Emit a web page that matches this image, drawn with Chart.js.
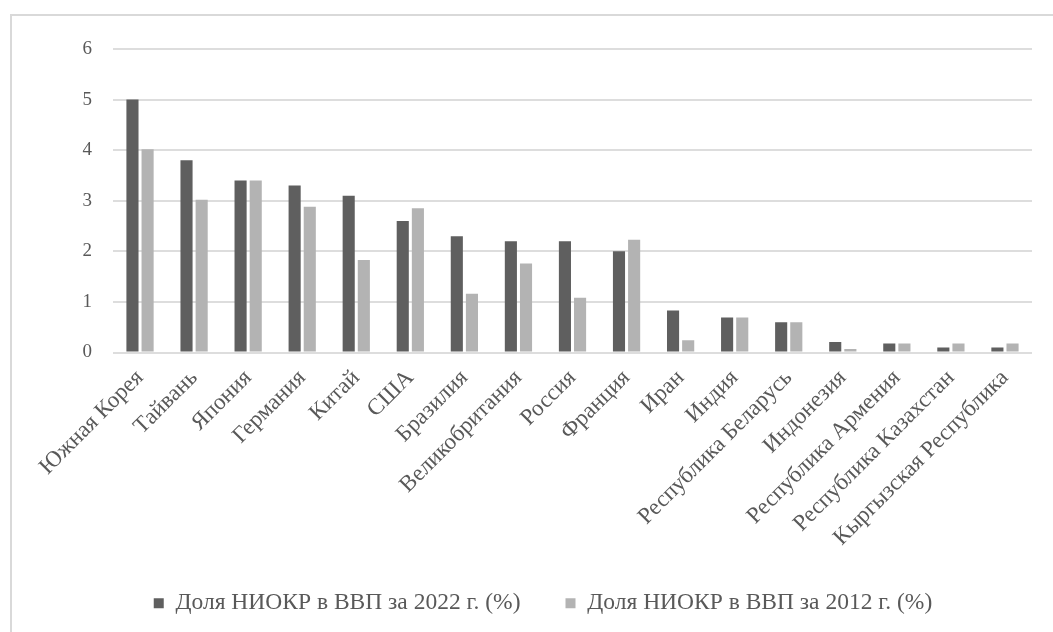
<!DOCTYPE html>
<html lang="ru">
  <head>
    <meta charset="UTF-8" />
    <title>Доля НИОКР в ВВП</title>
    <script src="https://cdn.jsdelivr.net/npm/chart.js"></script>
    <style>
      html, body { margin: 0; padding: 0; background: #fff; overflow: hidden; }
      .frame {
        position: absolute; left: 10px; top: 14px;
        width: 1100px; height: 700px;
        border: 2px solid #d9d9d9;
      }
      .wrap { position: absolute; left: 0; top: 0; width: 1053px; height: 632px; }
    </style>
  </head>
  <body>
    <div class="frame"></div>
    <div class="wrap"><canvas id="rdChart" width="1053" height="632"></canvas></div>

    <script>
      // categories and series
      const countries = [
        "Южная Корея", "Тайвань", "Япония", "Германия", "Китай", "США",
        "Бразилия", "Великобритания", "Россия", "Франция", "Иран", "Индия",
        "Республика Беларусь", "Индонезия", "Республика Армения",
        "Республика Казахстан", "Кыргызская Республика"
      ];
      const share2022 = [5.0, 3.8, 3.4, 3.3, 3.1, 2.6, 2.3, 2.2, 2.2, 2.0, 0.83, 0.69, 0.6, 0.21, 0.18, 0.1, 0.1];
      const share2012 = [4.02, 3.02, 3.4, 2.88, 1.83, 2.85, 1.16, 1.76, 1.08, 2.23, 0.24, 0.69, 0.6, 0.07, 0.18, 0.18, 0.18];
      const seriesNames = ["Доля НИОКР в ВВП за 2022 г. (%)", "Доля НИОКР в ВВП за 2012 г. (%)"];
      const yTicks = [0, 1, 2, 3, 4, 5, 6];

      const textColor = "#595959";
      const serif = "'Liberation Serif', 'Times New Roman', serif";

      const ctx = document.getElementById("rdChart").getContext("2d");
      new Chart(ctx, {
        type: "bar",
        data: {
          labels: countries,
          datasets: [
            {
              label: seriesNames[0],
              data: share2022,
              backgroundColor: "#5f5f5f",
              categoryPercentage: 0.56,
              barPercentage: 0.8,
            },
            {
              label: seriesNames[1],
              data: share2012,
              backgroundColor: "#b3b3b3",
              categoryPercentage: 0.56,
              barPercentage: 0.8,
            },
          ],
        },
        options: {
          responsive: false,
          animation: false,
          layout: { padding: { top: 49, right: 21, bottom: 7, left: 54 } },
          plugins: {
            tooltip: { enabled: false },
            legend: {
              position: "bottom",
              labels: {
                boxWidth: 10,
                boxHeight: 10,
                padding: 45,
                color: textColor,
                font: { family: serif, size: 23.5 },
              },
            },
          },
          scales: {
            x: {
              grid: { display: false },
              border: { display: false },
              ticks: {
                color: textColor,
                font: { family: serif, size: 23 },
                minRotation: 45,
                maxRotation: 45,
                autoSkip: false,
                padding: 4,
              },
              afterFit: (scale) => { scale.height = 194; },
            },
            y: {
              min: 0,
              max: 6,
              afterBuildTicks: (scale) => { scale.ticks = yTicks.map((v) => ({ value: v })); },
              grid: { color: "#dddddd", lineWidth: 2, drawTicks: false },
              border: { display: false },
              ticks: {
                color: textColor,
                font: { family: serif, size: 19 },
                padding: 21,
              },
              afterFit: (scale) => { scale.width = 59; },
            },
          },
        },
      });
    </script>
  </body>
</html>
